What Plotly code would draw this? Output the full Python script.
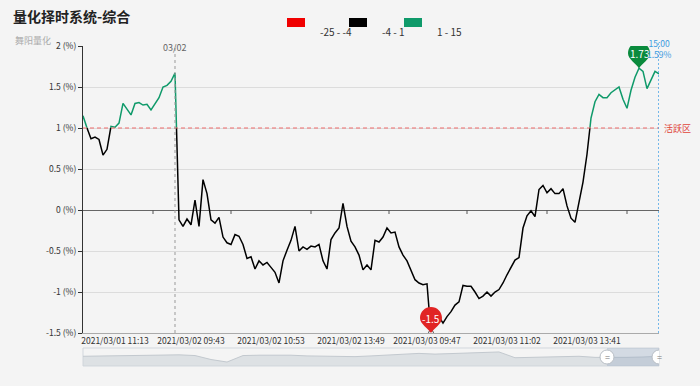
import plotly.graph_objects as go

# ---------------- data ----------------
title_text = "量化择时系统-综合"
subtitle_text = "舞阳量化"

# composite timing signal (%), one value per time step
signal_values = [
    1.15, 1.00, 0.87, 0.89, 0.86, 0.67, 0.74, 1.02, 1.01, 1.06,
    1.30, 1.23, 1.16, 1.30, 1.31, 1.28, 1.29, 1.22, 1.30, 1.37,
    1.50, 1.52, 1.57, 1.67, -0.12, -0.20, -0.11, -0.18, 0.12, -0.20,
    0.37, 0.20, -0.12, -0.16, -0.09, -0.33, -0.40, -0.42, -0.30, -0.32,
    -0.42, -0.59, -0.57, -0.72, -0.62, -0.67, -0.64, -0.70, -0.76, -0.89,
    -0.62, -0.49, -0.37, -0.20, -0.50, -0.45, -0.48, -0.44, -0.45, -0.42,
    -0.62, -0.72, -0.36, -0.28, -0.22, 0.08, -0.20, -0.38, -0.45, -0.55,
    -0.73, -0.67, -0.73, -0.37, -0.39, -0.33, -0.22, -0.28, -0.27, -0.45,
    -0.55, -0.62, -0.74, -0.85, -0.89, -0.91, -0.90, -1.50, -1.32, -1.30,
    -1.38, -1.30, -1.24, -1.16, -1.12, -0.92, -0.93, -0.93, -1.00, -1.08,
    -1.05, -1.00, -1.05, -1.00, -0.97, -0.89, -0.79, -0.70, -0.61, -0.58,
    -0.22, -0.07, -0.01, -0.08, 0.25, 0.30, 0.21, 0.26, 0.20, 0.20,
    0.26, 0.05, -0.10, -0.15, 0.08, 0.34, 0.68, 1.12, 1.32, 1.41,
    1.37, 1.37, 1.43, 1.46, 1.50, 1.35, 1.24, 1.46, 1.62, 1.73,
    1.69, 1.48, 1.59, 1.69, 1.66,
]

tick_index = [8, 27, 47, 67, 86, 106, 126]
tick_labels = ["2021/03/01 11:13", "2021/03/02 09:43", "2021/03/02 10:53",
               "2021/03/02 13:49", "2021/03/03 09:47", "2021/03/03 11:02",
               "2021/03/03 13:41"]
day_break_index = 23
day_break_label = "03/02"

y_ticks = [-1.5, -1, -0.5, 0, 0.5, 1, 1.5, 2]

band_lows = [-25, -4, 1]
band_highs = [-4, 1, 15]
band_colors = ["#f00000", "#000000", "#0f9a6a"]
band_labels = ["-25 - -4", "-4 - 1", "1 - 15"]

threshold_value = 1
threshold_label = "活跃区"
end_time_label = "15:00"
end_value_label = "1.59%"

# overview (data-zoom) series
slider_values = [27, 28, 28, 30, 29, 30, 31, 29, 18, 11,
                 29, 30, 31, 30, 28, 27, 25, 26, 28, 31,
                 32, 35, 33, 35, 37, 38, 39, 23, 24, 26,
                 27, 27, 24, 23, 24, 25, 27]
slider_window = [32.75, 36]

# ---------------- layout geometry ----------------
W, H = 700, 386
ML, MR, MT, MB = 83, 41, 46, 20
PW, PH = W - ML - MR, H - MT - MB


def px(xp):
    return (xp - ML) / PW


def py(yp):
    return (H - MB - yp) / PH


main_bottom = 333
slider_top, slider_bottom = 348, 366

FONT = "Noto Sans CJK SC"
n = len(signal_values)
xs = list(range(n))


def band_of(v):
    for k in range(len(band_lows)):
        if v < band_highs[k] or k == len(band_lows) - 1:
            return k
    return len(band_lows) - 1


def split_bands(xv, yv):
    out = [([], []) for _ in band_lows]

    def add(k, p, q):
        bx, by = out[k]
        if bx and bx[-1] == p[0] and by[-1] == p[1]:
            bx.append(q[0]); by.append(q[1])
        else:
            if bx:
                bx.append(None); by.append(None)
            bx.extend([p[0], q[0]]); by.extend([p[1], q[1]])

    for i in range(len(yv) - 1):
        x0, y0, x1, y1 = xv[i], yv[i], xv[i + 1], yv[i + 1]
        b0, b1 = band_of(y0), band_of(y1)
        pts = [(x0, y0)]
        bands_seq = [b0]
        if b0 != b1:
            step = 1 if b1 > b0 else -1
            for b in range(b0, b1, step):
                thr = band_highs[b] if step == 1 else band_lows[b]
                t = (thr - y0) / (y1 - y0)
                pts.append((x0 + t * (x1 - x0), thr))
                bands_seq.append(b + step)
        pts.append((x1, y1))
        for j in range(len(pts) - 1):
            add(bands_seq[j], pts[j], pts[j + 1])
    return out


fig = go.Figure()

segs = split_bands(xs, signal_values)
for k, (sx, sy) in enumerate(segs):
    if sx:
        fig.add_trace(go.Scatter(x=sx, y=sy, mode="lines",
                                 line=dict(color=band_colors[k], width=1.5),
                                 hoverinfo="skip", showlegend=False))

# min / max pins
i_min = min(range(n), key=lambda i: signal_values[i])
i_max = max(range(n), key=lambda i: signal_values[i])
fig.add_trace(go.Scatter(x=[i_min], y=[signal_values[i_min]], mode="markers",
                         marker=dict(size=5, color="#ffffff",
                                     line=dict(color="#555", width=1)),
                         hoverinfo="skip", showlegend=False))

# overview slider
fig.add_trace(go.Scatter(x=list(range(len(slider_values))), y=slider_values,
                         mode="lines", fill="tozeroy",
                         line=dict(color="#c3c9cf", width=1),
                         fillcolor="rgba(205,211,217,0.6)",
                         xaxis="x2", yaxis="y2", hoverinfo="skip",
                         showlegend=False))

shapes = []
annotations = []

pin_path = ("M 0,0 C -3,5 -11,9 -11,15 C -11,21.1 -6.1,26 0,26 "
            "C 6.1,26 11,21.1 11,15 C 11,9 3,5 0,0 Z")
for idx, col in ((i_min, "#e12424"), (i_max, "#0a8a3c")):
    v = signal_values[idx]
    shapes.append(dict(type="path", xref="x", yref="y", xsizemode="pixel",
                       ysizemode="pixel", xanchor=idx, yanchor=v,
                       path=pin_path, fillcolor=col, line=dict(width=0),
                       layer="above"))
    annotations.append(dict(x=idx, y=v, xref="x", yref="y", yshift=15,
                            text=f"{v:g}", showarrow=False,
                            font=dict(color="white", size=10, family=FONT)))

# reference lines
shapes.append(dict(type="line", xref="x domain", yref="y", x0=0, x1=1,
                   y0=threshold_value, y1=threshold_value,
                   line=dict(color="#ee6b6b", width=1, dash="4px,3px")))
shapes.append(dict(type="line", xref="x", yref="y domain",
                   x0=day_break_index, x1=day_break_index, y0=0, y1=1,
                   line=dict(color="#999999", width=1, dash="3px,3px")))
shapes.append(dict(type="line", xref="x", yref="y domain",
                   x0=n - 1, x1=n - 1, y0=0, y1=1.01,
                   line=dict(color="#4aa3e6", width=1.5, dash="2px,2px")))

# little ticks on the zero line, between label ticks
mids = [(a + b) / 2 for a, b in zip(tick_index[:-1], tick_index[1:])]
mids.append(tick_index[-1] + (tick_index[-1] - tick_index[-2]) / 2)
for m in mids:
    shapes.append(dict(type="line", xref="x", yref="y", ysizemode="pixel",
                       yanchor=0, x0=m, x1=m, y0=0, y1=-4,
                       line=dict(color="#555", width=1)))

annotations.append(dict(x=day_break_index, xref="x", y=py(39), yref="paper",
                        text=day_break_label, showarrow=False,
                        font=dict(size=9, color="#666", family=FONT)))
annotations.append(dict(x=n - 1, xref="x", y=py(35), yref="paper",
                        text=f"{end_time_label}<br>{end_value_label}",
                        showarrow=False,
                        font=dict(size=8.5, color="#3d9be0", family=FONT)))
annotations.append(dict(x=px(662), xref="paper", y=threshold_value, yref="y",
                        xanchor="left", text=threshold_label, showarrow=False,
                        font=dict(size=9, color="#e0443a", family=FONT)))
annotations.append(dict(x=px(13), xref="paper", y=py(32), yref="paper",
                        xanchor="left", text=subtitle_text, showarrow=False,
                        font=dict(size=9, color="#aaaaaa", family=FONT)))

# legend (manual)
leg_rect_x = [287, 349, 404]
leg_text_x = [318, 380, 435]
for k in range(len(band_labels)):
    shapes.append(dict(type="rect", xref="paper", yref="paper",
                       x0=px(leg_rect_x[k]), x1=px(leg_rect_x[k] + 18),
                       y0=py(27), y1=py(18), fillcolor=band_colors[k],
                       line=dict(width=0)))
    annotations.append(dict(x=px(leg_text_x[k]), xref="paper", y=py(22.5),
                            yref="paper", xanchor="left", text=band_labels[k],
                            showarrow=False,
                            font=dict(size=10, color="#333", family=FONT)))

# slider frame, window and handles
shapes.append(dict(type="rect", xref="paper", yref="y2 domain", x0=0, x1=1,
                   y0=0, y1=1, fillcolor="rgba(0,0,0,0)",
                   line=dict(color="#d2d7dd", width=1), layer="below"))
shapes.append(dict(type="rect", xref="x2", yref="y2 domain",
                   x0=slider_window[0], x1=slider_window[1], y0=0, y1=1,
                   fillcolor="rgba(150,170,195,0.35)", line=dict(width=0)))
for hx in slider_window:
    shapes.append(dict(type="circle", xref="x2", yref="y2 domain",
                       xsizemode="pixel", ysizemode="pixel", xanchor=hx,
                       yanchor=0.5, x0=-7, x1=7, y0=-7, y1=7,
                       fillcolor="#ffffff", line=dict(color="#b8bec5", width=1)))
    annotations.append(dict(x=hx, xref="x2", y=0.5, yref="y2 domain",
                            text="=", showarrow=False,
                            font=dict(size=9, color="#777", family=FONT)))

fig.update_layout(
    width=W, height=H,
    margin=dict(l=ML, r=MR, t=MT, b=MB),
    paper_bgcolor="#f4f4f4", plot_bgcolor="#f4f4f4",
    font=dict(family=FONT, size=9, color="#333"),
    title=dict(text=f"<b>{title_text}</b>", x=13 / W, xanchor="left",
               y=1 - 17 / H, yanchor="middle",
               font=dict(size=14, color="#222", family=FONT)),
    showlegend=False,
    xaxis=dict(range=[0, n - 1], domain=[0, 1], anchor="y",
               tickmode="array", tickvals=tick_index, ticktext=tick_labels,
               showgrid=False, zeroline=False, showline=True,
               linecolor="#aaaaaa", linewidth=1, ticks="",
               tickfont=dict(size=8.5, color="#333")),
    yaxis=dict(range=[-1.5, 2], domain=[py(main_bottom), 1], anchor="x",
               tickmode="array", tickvals=y_ticks,
               ticktext=[f"{v:g} (%)" for v in y_ticks],
               showgrid=True, gridcolor="#dcdcdc", gridwidth=1,
               zeroline=True, zerolinecolor="#666", zerolinewidth=1,
               showline=True, linecolor="#333", linewidth=1,
               ticks="outside", ticklen=4, tickcolor="#333",
               tickfont=dict(size=8.5, color="#333")),
    xaxis2=dict(range=[0, len(slider_values) - 1], domain=[0, 1],
                anchor="y2", visible=False),
    yaxis2=dict(range=[0, 50], domain=[0, py(slider_top)], anchor="x2",
                visible=False),
    shapes=shapes, annotations=annotations,
)

fig.write_html("out.html", config={"displayModeBar": False},
               post_script="document.body.style.margin='0';"
                           "document.body.style.background='#f4f4f4';")
